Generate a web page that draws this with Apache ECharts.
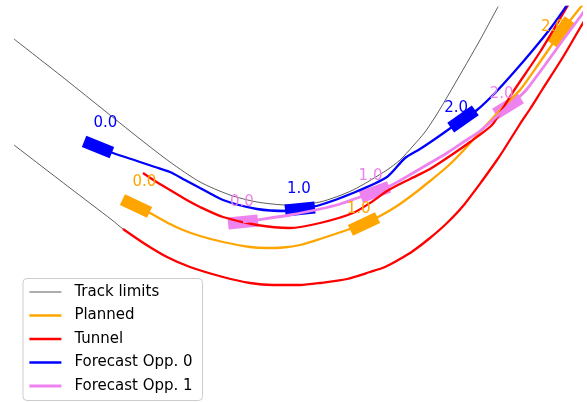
<!DOCTYPE html>
<html>
<head>
<meta charset="utf-8">
<script src="https://cdn.jsdelivr.net/npm/echarts@6/dist/echarts.min.js"></script>
<style>
  html, body { margin: 0; padding: 0; background: #ffffff; }
  #chart { width: 587px; height: 402px; }
</style>
</head>
<body>
<div id="chart"></div>
<script>
// Track geometry and trajectories, in metres (x, y).
const trackLimitLeft = [
  [2.8, 72.6], [12, 65.4], [20, 59], [28, 52.6], [34, 48], [40, 44], [46, 41.4],
  [51.4, 40], [57.4, 39.4], [64, 40], [70.6, 42.4], [77.4, 46.4], [80, 48.4],
  [82.6, 51.2], [85, 54], [87.4, 57.6], [90.6, 63], [96, 72.4], [100, 79.8]
];
const tunnelOuter = [
  [24.6, 34.6], [29, 31.6], [33.4, 29], [38, 27], [44.6, 25], [50, 23.8],
  [54.6, 23.4], [60, 23.4], [64, 23.8], [69.4, 24.6], [74, 26], [77, 27],
  [80, 28.6], [82.6, 30.2], [86, 32.8], [89.4, 35.8], [92.6, 39.2], [96.4, 44.2],
  [99.4, 48.4], [100.6, 50.2], [104, 55.6], [106, 58.6], [108.4, 62.4],
  [112.6, 69], [116, 74.8], [118.4, 78.8]
];
const trackLimitRight = [[2.8, 51.4], [14, 42.8], [22.4, 36.4]].concat(tunnelOuter);
const tunnelInner = [
  [28.6, 45.8], [31, 44.2], [34, 42.4], [37, 40.6], [40, 39], [44.6, 37],
  [51.4, 35.4], [58, 34.8], [64, 35.8], [70.6, 37.8], [74.6, 40.2], [77.4, 42.2],
  [82, 44.6], [86, 46.6], [90, 49.2], [94, 52], [98.4, 55.4], [100.6, 58.8],
  [103, 62.6], [108, 70], [113.4, 79], [114.4, 80.6]
];
const planned = [
  [27.2, 39.2], [30, 37.8], [34, 35.6], [36.6, 34.4], [40, 33.2], [44.6, 32],
  [50, 31], [53.4, 30.8], [56.6, 30.9], [60, 31.4], [64, 32.6], [69.4, 34.4],
  [72.8, 35.6], [76, 37.2], [79.4, 39.2], [83, 41.8], [86, 44.2], [89.6, 47.2],
  [92.6, 50.2], [95.6, 53.6], [98, 56.2], [101, 59.4], [104, 62.4], [108, 68],
  [112.2, 74], [116, 78.8], [117.4, 80.6]
];
const forecastOpp0 = [
  [19.6, 51], [22.6, 49.8], [27.4, 48.2], [31, 47], [34, 46], [37, 44.4],
  [40, 42.8], [44.6, 40.4], [51.4, 38.6], [57.4, 38.2], [60, 38.6], [64, 39.4],
  [70.6, 41.8], [77.4, 45], [81, 48.8], [84, 50.6], [87, 52.6], [90.4, 55],
  [92.6, 56.6], [95.4, 58.4], [99, 61.8], [103, 66.2], [106.6, 70.4], [110, 74.6],
  [113, 78.8], [114.2, 80.6]
];
const forecastOpp1 = [
  [48.6, 36], [51.4, 36.4], [58, 37.4], [64, 38.6], [68, 39.6], [72, 41],
  [75, 42], [78, 43.2], [82.6, 45.8], [86, 47.8], [89.4, 49.8], [93, 52.2],
  [96, 54.2], [98.8, 56.6], [101.6, 59.2], [103.6, 60.8], [105.4, 62.6],
  [109, 67.4], [112.6, 72.4], [116, 77], [118, 79.8]
];

// Vehicle poses at t = 0, 1, 2 s: [x, y, heading in degrees].
const timeLabels = ['0.0', '1.0', '2.0'];
const egoPoses = [[27.2, 39.2, -25], [72.8, 35.6, 25], [112.2, 74, 55]];
const opp0Poses = [[19.6, 51, -22], [60, 38.6, 6], [92.6, 56.6, 35]];
const opp1Poses = [[48.6, 36, 6], [75, 42, 20], [101.6, 59.2, 32]];

// Drawing constants
const VEH_LEN = 6;
const VEH_WID = 2.4;
const LABEL_DIST = 4;
const LABEL_ANGLE = 125 * Math.PI / 180;
const FONT = '15px "DejaVu Sans", sans-serif';

const C_PLAN = '#ffa500', C_TUN = '#ff0000', C_OPP0 = '#0000ff', C_OPP1 = '#ee82ee', C_TRACK = '#333333';

function lineSeries(name, data, color, width, z) {
  return {
    name: name, type: 'line', data: data, z: z,
    showSymbol: false, symbol: 'circle', smooth: 0.25,
    clip: true, silent: true,
    lineStyle: { color: color, width: width },
    itemStyle: { color: color }
  };
}

function vehicleSeries(poses, color) {
  return {
    type: 'custom', data: poses, z: 3, clip: true, silent: true,
    encode: { x: 0, y: 1 },
    renderItem: function (params, api) {
      const x = api.value(0), y = api.value(1), h = api.value(2) * Math.PI / 180;
      const c = Math.cos(h), s = Math.sin(h);
      const hl = VEH_LEN / 2, hw = VEH_WID / 2;
      const pts = [[-hl, -hw], [hl, -hw], [hl, hw], [-hl, hw]].map(function (p) {
        return api.coord([x + p[0] * c - p[1] * s, y + p[0] * s + p[1] * c]);
      });
      return { type: 'polygon', shape: { points: pts }, style: { fill: color } };
    }
  };
}

function timeLabelSeries(poses, color) {
  return {
    type: 'custom', data: poses, z: 6, clip: false, silent: true,
    encode: { x: 0, y: 1 },
    renderItem: function (params, api) {
      const x = api.value(0), y = api.value(1), h = api.value(2) * Math.PI / 180;
      const a = h + LABEL_ANGLE;
      const p = api.coord([x + LABEL_DIST * Math.cos(a), y + LABEL_DIST * Math.sin(a)]);
      return {
        type: 'text', x: p[0], y: p[1] + 3,
        style: { text: timeLabels[params.dataIndex], fill: color, font: FONT, align: 'left', verticalAlign: 'bottom' }
      };
    }
  };
}

const chart = echarts.init(document.getElementById('chart'), null, { renderer: 'canvas' });
chart.setOption({
  animation: false,
  backgroundColor: '#ffffff',
  grid: { left: 0, right: 6, top: 7, bottom: 0 },
  xAxis: { type: 'value', min: 0, max: 116.2, show: false },
  yAxis: { type: 'value', min: 0, max: 79, show: false },
  legend: {
    orient: 'vertical', left: 23, top: 278.5,
    data: ['Track limits', 'Planned', 'Tunnel', 'Forecast Opp. 0', 'Forecast Opp. 1'],
    itemWidth: 32, itemHeight: 14, itemGap: 8.5,
    padding: [6, 10, 7, 5],
    backgroundColor: 'rgba(255,255,255,0.8)',
    borderColor: '#cccccc', borderWidth: 1, borderRadius: 4,
    selectedMode: false,
    itemStyle: { opacity: 0 },
    lineStyle: { width: 'inherit' },
    textStyle: { fontFamily: 'DejaVu Sans', fontSize: 15, color: '#000000', padding: [0, 0, 0, 8] }
  },
  series: [
    lineSeries('Track limits', trackLimitLeft, C_TRACK, 0.8, 2),
    lineSeries('Track limits', trackLimitRight, C_TRACK, 0.8, 2),
    vehicleSeries(egoPoses, C_PLAN),
    vehicleSeries(opp0Poses, C_OPP0),
    vehicleSeries(opp1Poses, C_OPP1),
    lineSeries('Planned', planned, C_PLAN, 2.3, 4),
    lineSeries('Tunnel', tunnelInner, C_TUN, 2.3, 4),
    lineSeries('Tunnel', tunnelOuter, C_TUN, 2.3, 4),
    lineSeries('Forecast Opp. 0', forecastOpp0, C_OPP0, 2.3, 4),
    lineSeries('Forecast Opp. 1', forecastOpp1, C_OPP1, 2.8, 4),
    timeLabelSeries(egoPoses, C_PLAN),
    timeLabelSeries(opp0Poses, C_OPP0),
    timeLabelSeries(opp1Poses, C_OPP1)
  ]
});
</script>
</body>
</html>
